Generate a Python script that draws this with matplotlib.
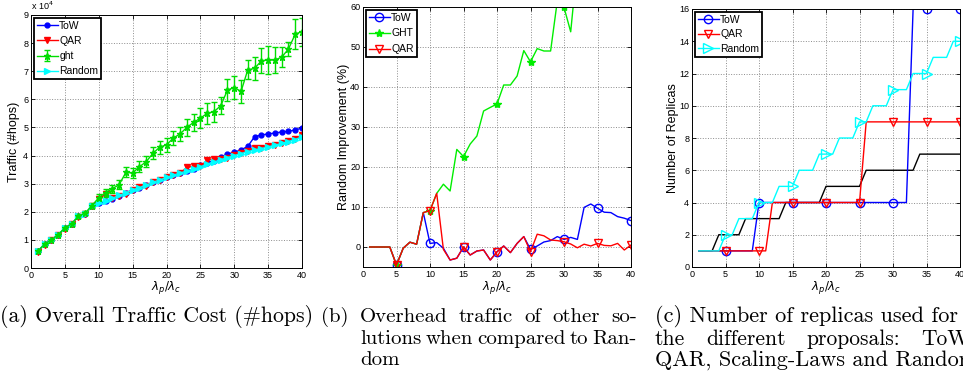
import numpy as np
import matplotlib
matplotlib.use("Agg")
import matplotlib.pyplot as plt

plt.rcParams["font.family"] = ["Liberation Sans", "DejaVu Sans"]

# lambda_p / lambda_c ratios on the x axis
ratio = np.arange(1, 41)

# (a) overall traffic, in units of 1e4 hops
tow_traffic = [0.6, 0.85, 1.0, 1.18, 1.43, 1.57, 1.85, 1.93, 2.2, 2.3,
               2.37, 2.45, 2.55, 2.67, 2.78, 2.86, 2.95, 3.05, 3.13, 3.22,
               3.3, 3.38, 3.45, 3.52, 3.65, 3.75, 3.82, 3.95, 4.05, 4.12,
               4.2, 4.33, 4.67, 4.73, 4.77, 4.8, 4.84, 4.86, 4.91, 4.98]
qar_traffic = [0.58, 0.83, 1.0, 1.17, 1.4, 1.57, 1.83, 1.92, 2.22, 2.45,
               2.62, 2.5, 2.55, 2.65, 2.78, 2.87, 2.93, 3.05, 3.12, 3.22,
               3.3, 3.37, 3.58, 3.62, 3.62, 3.83, 3.88, 3.88, 3.93, 4.03,
               4.1, 4.15, 4.27, 4.27, 4.35, 4.38, 4.45, 4.53, 4.58, 4.73]
ght_traffic = [0.6, 0.85, 1.0, 1.18, 1.43, 1.57, 1.85, 1.95, 2.22, 2.5,
               2.68, 2.82, 2.96, 3.4, 3.38, 3.6, 3.78, 4.08, 4.3, 4.38,
               4.62, 4.77, 5.0, 5.18, 5.33, 5.5, 5.56, 5.77, 6.33, 6.42,
               6.28, 7.05, 7.1, 7.37, 7.4, 7.4, 7.5, 7.79, 8.32, 8.41]
ght_err = [0.03, 0.04, 0.05, 0.05, 0.06, 0.06, 0.07, 0.08, 0.1, 0.12,
           0.14, 0.15, 0.16, 0.18, 0.18, 0.2, 0.2, 0.22, 0.23, 0.24,
           0.25, 0.24, 0.3, 0.3, 0.35, 0.36, 0.35, 0.3, 0.38, 0.42,
           0.42, 0.34, 0.4, 0.44, 0.5, 0.45, 0.35, 0.26, 0.53, 0.5]
random_traffic = [0.6, 0.85, 1.0, 1.18, 1.43, 1.57, 1.85, 1.93, 2.22, 2.32,
                  2.4, 2.48, 2.58, 2.68, 2.78, 2.86, 2.95, 3.05, 3.13, 3.22,
                  3.3, 3.38, 3.45, 3.52, 3.6, 3.7, 3.77, 3.85, 3.93, 4.0,
                  4.07, 4.14, 4.2, 4.25, 4.31, 4.37, 4.43, 4.5, 4.57, 4.67]

# (b) overhead relative to Random (%)
tow_improv = [0, 0, 0, 0, -4.5, -0.3, 1.2, 0.7, 8.6, 0.9,
              1.1, -0.3, -3.25, -2.8, 0, -2, -1, -0.75, -3.25, -1.2,
              0.25, -1.4, 0.9, 2.6, -0.6, 0.25, 1.25, 1.6, 2.6, 1.9,
              2.4, 1.9, 9.9, 10.75, 9.7, 8.7, 8.6, 7.6, 7.2, 6.6]
ght_improv = [0, 0, 0, 0, -4.5, -0.3, 1.2, 0.7, 8.6, 9.1,
              13.4, 15.7, 14.0, 24.4, 22.6, 25.75, 27.75, 34.0, 34.9, 35.75,
              40.5, 40.5, 42.75, 49.1, 46.3, 49.6, 49.0, 49.0, 61.5, 59.9,
              53.8, 71, 69, 74, 72, 69, 69, 73, 81, 80]
qar_improv = [0, 0, 0, 0, -4.5, -0.3, 1.2, 0.7, 8.6, 9.1,
              13.4, -0.6, -3.25, -2.8, 0, -2, -1, -0.75, -3.25, -1.2,
              0.25, -1.4, 0.9, 2.6, -1.2, 3.2, 2.8, 1.75, 1.6, 1.3,
              0.75, -0.2, 0.7, 0.25, 0.9, 0.4, 0.3, 0.9, -0.75, 0.5]

# (c) number of replicas
tow_replicas = [1, 1, 1, 1, 1, 1, 1, 1, 1, 4,
                4, 4, 4, 4, 4, 4, 4, 4, 4, 4,
                4, 4, 4, 4, 4, 4, 4, 4, 4, 4,
                4, 4, 16, 16, 16, 16, 16, 16, 16, 16]
qar_replicas = [1, 1, 1, 1, 1, 1, 1, 1, 1, 1,
                1, 4, 4, 4, 4, 4, 4, 4, 4, 4,
                4, 4, 4, 4, 4, 9, 9, 9, 9, 9,
                9, 9, 9, 9, 9, 9, 9, 9, 9, 9]
random_replicas = [1, 1, 1, 1, 2, 2, 3, 3, 3, 4,
                   4, 4, 5, 5, 5, 6, 6, 6, 7, 7,
                   7, 8, 8, 8, 9, 9, 10, 10, 10, 11,
                   11, 11, 12, 12, 12, 13, 13, 13, 14, 14]
scaling_replicas = [1, 1, 1, 2, 2, 2, 2, 3, 3, 3,
                    3, 3, 3, 4, 4, 4, 4, 4, 4, 5,
                    5, 5, 5, 5, 5, 6, 6, 6, 6, 6,
                    6, 6, 6, 7, 7, 7, 7, 7, 7, 7]

W, H = 963, 385


def px_axes(fig, left, top, right, bottom):
    return fig.add_axes([left / W, 1 - bottom / H, (right - left) / W, (bottom - top) / H])


def style(ax, ylim, yticks):
    ax.set_xlim(0, 40)
    ax.set_xticks(range(0, 41, 5))
    ax.set_ylim(*ylim)
    ax.set_yticks(yticks)
    ax.grid(True, linestyle=":", color="0.55", linewidth=0.7)
    ax.tick_params(direction="in", top=True, right=True, length=3, width=0.6,
                   labelsize=6.5, pad=2)
    for sp in ax.spines.values():
        sp.set_linewidth(0.7)
    ax.set_xlabel(r"$\lambda_p/\lambda_c$", fontsize=8.5)
    ax.xaxis.set_label_coords(0.5, -0.045)


def legend(ax, size, spacing, order=None):
    handles, labels = ax.get_legend_handles_labels()
    if order:
        handles = [handles[labels.index(o)] for o in order]
        labels = list(order)
    leg = ax.legend(handles, labels, loc="upper left", fontsize=size, numpoints=1,
                    fancybox=False, framealpha=1, edgecolor="black",
                    borderaxespad=0.25, borderpad=0.3, labelspacing=spacing,
                    handlelength=2.0, handletextpad=0.15)
    leg.get_frame().set_linewidth(1.3)


fig = plt.figure(figsize=(W / 100, H / 100), dpi=100)

# (a) traffic cost
ax = px_axes(fig, 31, 15, 302, 268)
ax.plot(ratio, tow_traffic, color="blue", marker="o", ms=3.5, lw=1.0, label="ToW")
ax.plot(ratio, qar_traffic, color="red", marker="v", ms=4, lw=1.0, label="QAR")
ax.errorbar(ratio, ght_traffic, yerr=ght_err, color="#00dd00", marker="*", ms=4.5,
            lw=1.0, elinewidth=1.0, capsize=2, label="ght")
ax.plot(ratio, random_traffic, color="cyan", marker=">", ms=4.5, lw=1.0, label="Random")
style(ax, (0, 9), range(0, 10))
ax.set_ylabel("Traffic (#hops)", fontsize=9)
ax.yaxis.set_label_coords(-0.04, 0.5)
ax.text(0.0, 1.012, r"x 10$^{4}$", transform=ax.transAxes, fontsize=6.5, va="bottom")
legend(ax, 7.5, 0.5, order=["ToW", "QAR", "ght", "Random"])

# (b) improvement over Random
ax = px_axes(fig, 363, 7, 631, 267)
ax.plot(ratio, tow_improv, color="blue", marker="o", mfc="none", ms=6, mew=1.0,
        lw=1.0, markevery=(4, 5), label="ToW")
ax.plot(ratio, ght_improv, color="#00ee00", marker="*", ms=6, lw=1.0,
        markevery=(4, 5), label="GHT")
ax.plot(ratio, qar_improv, color="red", marker="v", mfc="none", ms=6, mew=1.0,
        lw=1.0, markevery=(4, 5), label="QAR")
style(ax, (-5, 60), range(0, 61, 10))
ax.set_ylabel("Random Improvement (%)", fontsize=9)
ax.yaxis.set_label_coords(-0.05, 0.5)
legend(ax, 7.5, 0.55)

# (c) replicas
ax = px_axes(fig, 692, 9, 960, 267)
ax.plot(ratio, scaling_replicas, color="black", lw=1.0)
ax.plot(ratio, tow_replicas, color="blue", marker="o", mfc="none", ms=6, mew=1.0,
        lw=1.0, markevery=(4, 5), label="ToW")
ax.plot(ratio, qar_replicas, color="red", marker="v", mfc="none", ms=6, mew=1.0,
        lw=1.0, markevery=(4, 5), label="QAR")
ax.plot(ratio, random_replicas, color="cyan", marker=">", mfc="none", ms=7, mew=1.0,
        lw=1.0, markevery=(4, 5), label="Random")
style(ax, (0, 16), range(0, 17, 2))
ax.set_ylabel("Number of Replicas", fontsize=9)
ax.yaxis.set_label_coords(-0.05, 0.5)
legend(ax, 7.5, 0.45)

# sub-figure captions, justified word by word like a typeset paragraph
renderer = fig.canvas.get_renderer()


def caption_line(text, left, y, right=None, size=15.0):
    cap = dict(family="cmr10", fontsize=size, va="center")
    if right is None:
        fig.text(left / W, 1 - y / H, text, **cap)
        return
    words = [fig.text(0, 1 - y / H, w, **cap) for w in text.split()]
    widths = [t.get_window_extent(renderer).width for t in words]
    gap = (right - left - sum(widths)) / (len(words) - 1)
    x = left
    for t, w in zip(words, widths):
        t.set_x(x / W)
        x += w + gap


caption_line("(a) Overall Traffic Cost (#hops)", 0, 317, size=15.7)
caption_line("(b) Overhead traffic of other so-", 321, 317, 637)
caption_line("lutions when compared to Ran-", 360, 339, 637)
caption_line("dom", 360, 360)
caption_line("(c) Number of replicas used for", 655, 317, size=16)
caption_line("the different proposals: ToW,", 655, 339, 975, size=15.5)
caption_line("QAR, Scaling-Laws and Random", 655, 360, size=16)

fig.savefig("out.png", dpi=100)
